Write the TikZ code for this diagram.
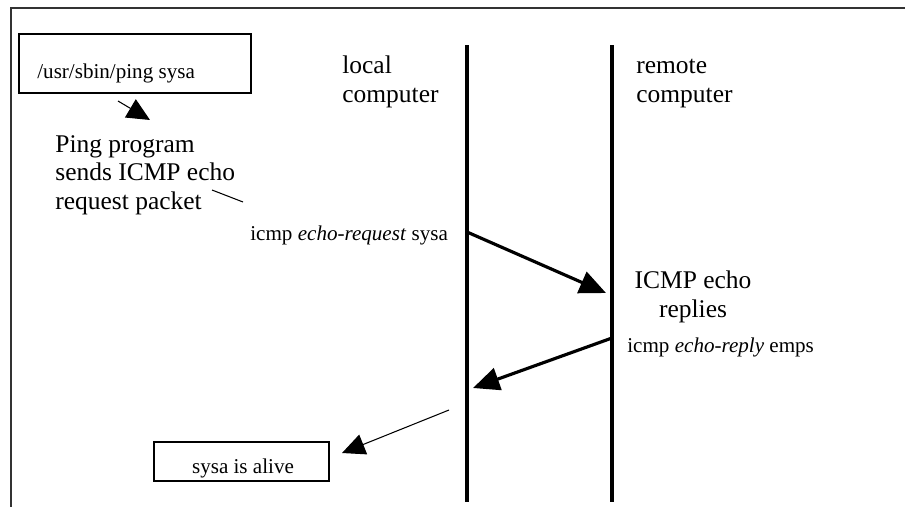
\documentclass[tikz,border=0pt]{standalone}
\usepackage{fontspec}
\setmainfont{Liberation Serif}
\usetikzlibrary{arrows.meta, positioning}

\tikzset{
    frameline/.style={line width=0.9pt, black!80},
    lifeline/.style={line width=2pt},
    msg/.style={line width=1.8pt, -{Triangle[length=15pt, width=13pt]}},
    hint/.style={line width=0.6pt, -{Triangle[length=13pt, width=12pt]}},
    cmdbox/.style={draw, line width=0.9pt, inner sep=0pt},
    bigtext/.style={font=\fontsize{14.5}{16.2}\selectfont, align=left, inner sep=0pt},
    smalltext/.style={font=\fontsize{12}{13}\selectfont, inner sep=0pt}
}

\begin{document}
\begin{tikzpicture}[x=0.02cm, y=-0.02cm]
    \useasboundingbox (0,0) rectangle (905,507);

    % Frame
    \draw[frameline] (905,8) -- (11,8) -- (11,507);

    % Command box
    \node[cmdbox, minimum width=4.64cm, minimum height=1.18cm] (ping) at (135,63.5) {};
    \node[smalltext, anchor=base west] (pingcmd) at (37,78) {/usr/sbin/ping sysa};
    \coordinate (pingout) at (118,101);
    \coordinate (pingin) at (150,120);
    \draw[hint] (pingout) -- (pingin);

    % Ping program notes (base is the last line)
    \node[bigtext, anchor=base west] (sends) at (55,209) {Ping program\\sends ICMP echo\\request packet};
    \coordinate (tickA) at (212,190);
    \coordinate (tickB) at (243,202);
    \draw[line width=0.6pt] (tickA) -- (tickB);
    \node[smalltext, anchor=base west] (request) at (250,240) {icmp \textit{echo-request} sysa};

    % Computers
    \node[bigtext, anchor=base west] (local) at (342,102) {local\\computer};
    \node[bigtext, anchor=base west] (remote) at (636,102) {remote\\computer};
    \coordinate (localtop) at (467,45);
    \coordinate (localbot) at (467,502);
    \coordinate (remotetop) at (612,45);
    \coordinate (remotebot) at (612,502);
    \draw[lifeline] (localtop) -- (localbot);
    \draw[lifeline] (remotetop) -- (remotebot);

    % Echo request and reply
    \coordinate (reqstart) at (467,232);
    \coordinate (reqend) at (606,293);
    \draw[msg] (reqstart) -- (reqend);
    \node[bigtext, align=center, anchor=base] (replies) at (693,317) {ICMP echo\\replies};
    \node[smalltext, anchor=base west] (reply) at (627,352) {icmp \textit{echo-reply} emps};
    \coordinate (repstart) at (612,338);
    \coordinate (repend) at (473,388);
    \draw[msg] (repstart) -- (repend);

    % Result
    \node[cmdbox, minimum width=3.5cm, minimum height=0.78cm] (alive) at (241.5,461.5) {};
    \node[smalltext, anchor=base] (alivetxt) at (243,473) {sysa is alive};
    \coordinate (aliveout) at (449,410);
    \coordinate (alivein) at (342,453);
    \draw[hint] (aliveout) -- (alivein);
\end{tikzpicture}
\end{document}
